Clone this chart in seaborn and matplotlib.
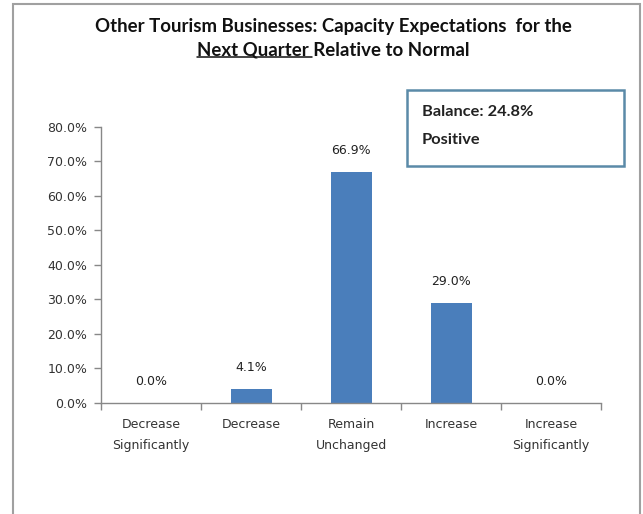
import matplotlib
matplotlib.use("Agg")
import matplotlib.pyplot as plt
import matplotlib.patches as mpatches
import matplotlib.lines as mlines
import seaborn as sns
import pandas as pd

categories = ["Decrease\nSignificantly", "Decrease", "Remain\nUnchanged",
              "Increase", "Increase\nSignificantly"]
shares = [0.0, 4.1, 66.9, 29.0, 0.0]
yticks = [0, 10, 20, 30, 40, 50, 60, 70, 80]

sns.set_theme(style="white")
plt.rcParams["font.family"] = ["DejaVu Sans"]

df = pd.DataFrame({"category": categories, "share": shares})

fig = plt.figure(figsize=(6.43, 5.14), dpi=100)
ax = fig.add_axes([0.157, 0.216, 0.778, 0.537])

sns.barplot(data=df, x="category", y="share", color="#4a7ebb", width=0.41,
            saturation=1, linewidth=0, ax=ax)

ax.set_ylim(0, 80)
ax.set_xlim(-0.5, 4.5)
ax.set_yticks(yticks)
ax.set_yticklabels([f"{v:.1f}%" for v in yticks], fontsize=9, color="#333333")
ax.set_xlabel("")
ax.set_ylabel("")
ax.tick_params(axis="x", which="major", length=0, pad=11, labelsize=9,
               labelcolor="#333333")
for lbl in ax.get_xticklabels():
    lbl.set_linespacing(1.75)
ax.set_xticks([i - 0.5 for i in range(6)], minor=True)
ax.tick_params(axis="x", which="minor", direction="out", length=5,
               color="#888888", width=1, bottom=True)
ax.tick_params(axis="y", direction="out", length=5, color="#888888",
               width=1, pad=5, left=True)

for s in ["top", "right"]:
    ax.spines[s].set_visible(False)
for s in ["left", "bottom"]:
    ax.spines[s].set_color("#888888")
    ax.spines[s].set_linewidth(1)

for i, v in enumerate(shares):
    ax.annotate(f"{v:.1f}%", (i, v), xytext=(0, 11), textcoords="offset points",
                ha="center", va="bottom", fontsize=9, color="#222222")

# Title, with the "Next Quarter" part underlined
title_font = dict(family="Lato", weight="bold", size=13.4, color="#111111")
fig.text(0.518, 1 - 32 / 514, "Other Tourism Businesses: Capacity Expectations  for the",
         ha="center", va="baseline", **title_font)

renderer = fig.canvas.get_renderer()
line2 = "Next Quarter Relative to Normal"
underlined = "Next Quarter"
base2 = 1 - 55 / 514
t2 = fig.text(0.518, base2, line2, ha="center", va="baseline", **title_font)
probe = fig.text(0, 0, underlined, **title_font)
w_full = t2.get_window_extent(renderer).width / fig.bbox.width
w_ul = probe.get_window_extent(renderer).width / fig.bbox.width
probe.remove()
x0 = 0.518 - w_full / 2
uy = base2 - 2.5 / 514
fig.add_artist(mlines.Line2D([x0, x0 + w_ul + 0.006], [uy, uy], color="#111111",
                             lw=1.1, transform=fig.transFigure))

# Balance box
box = mpatches.Rectangle((407 / 643, 1 - 166 / 514), (624 - 407) / 643,
                         (166 - 90) / 514, transform=fig.transFigure,
                         facecolor="white", edgecolor="#5b8aa8", lw=1.8)
fig.add_artist(box)
box_font = dict(family="Lato", weight="bold", size=11.8, color="#222222")
fig.text(422 / 643, 1 - 112 / 514, "Balance: 24.8%", ha="left", va="center",
         **box_font)
fig.text(422 / 643, 1 - 140 / 514, "Positive", ha="left", va="center",
         **box_font)

# Outer chart frame
frame = mpatches.Rectangle((12.5 / 643, -0.1), (640 - 12.5) / 643,
                           1.1 - 4.5 / 514, transform=fig.transFigure,
                           facecolor="none", edgecolor="#a0a0a0", lw=1.5,
                           clip_on=False)
fig.add_artist(frame)

fig.savefig("out.png", dpi=100)
